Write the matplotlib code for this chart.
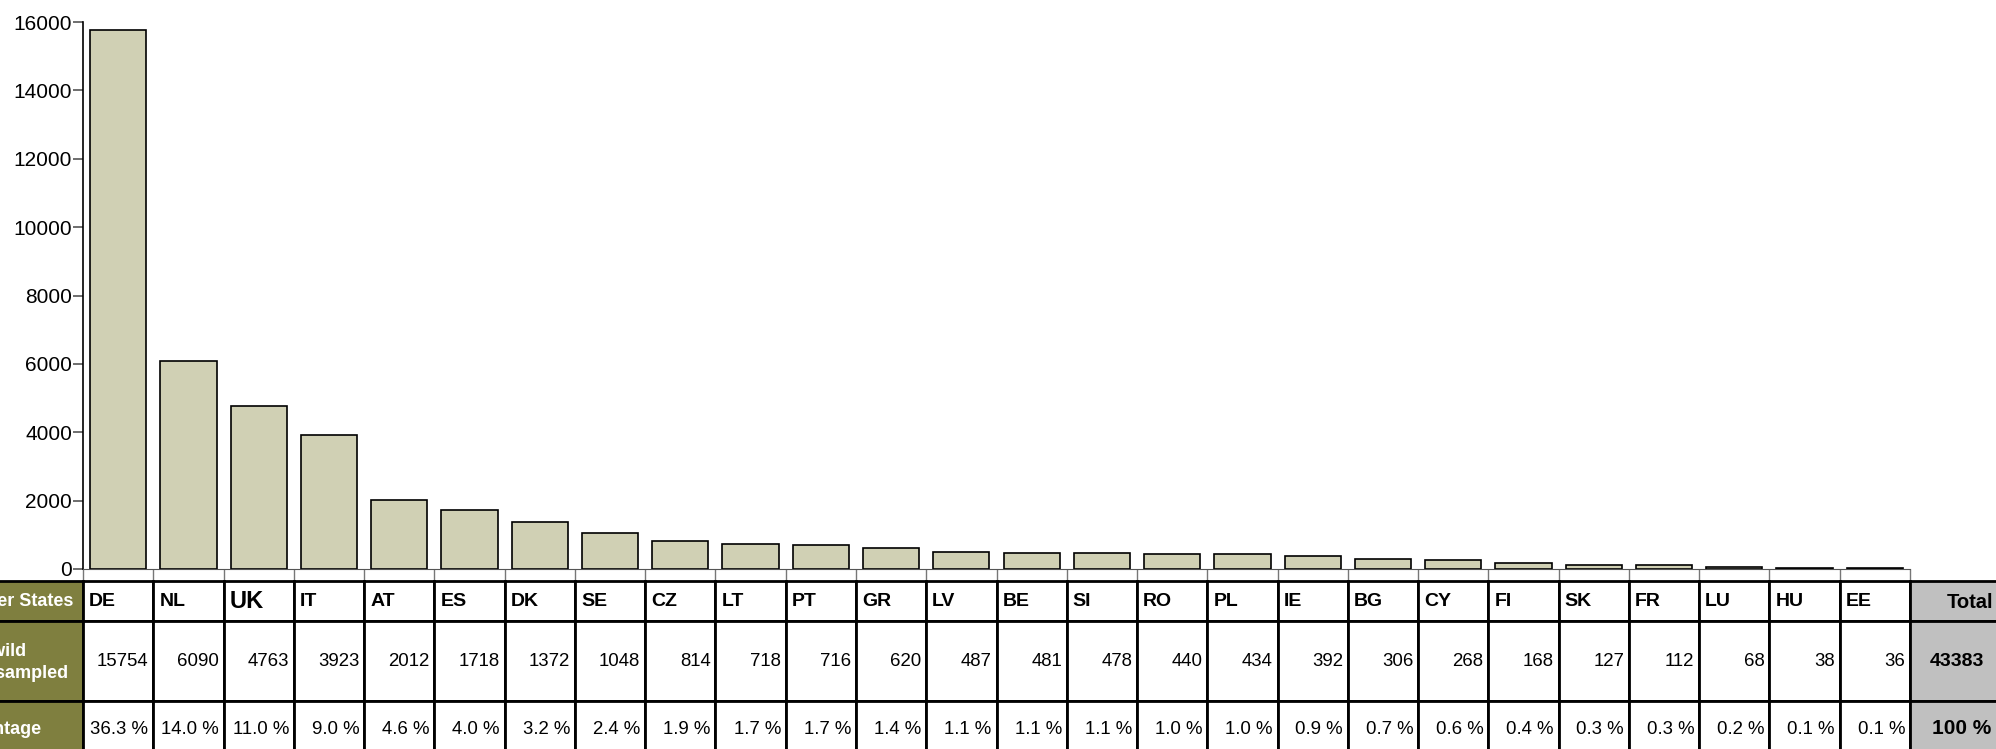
import matplotlib.pyplot as plt
from matplotlib.patches import Rectangle

plt.rcParams['font.family'] = ['Liberation Sans', 'DejaVu Sans']

# data
codes = ['DE', 'NL', 'UK', 'IT', 'AT', 'ES', 'DK', 'SE', 'CZ', 'LT', 'PT', 'GR', 'LV',
         'BE', 'SI', 'RO', 'PL', 'IE', 'BG', 'CY', 'FI', 'SK', 'FR', 'LU', 'HU', 'EE']
counts = [15754, 6090, 4763, 3923, 2012, 1718, 1372, 1048, 814, 718, 716, 620, 487,
          481, 478, 440, 434, 392, 306, 268, 168, 127, 112, 68, 38, 36]
percents = ['36.3 %', '14.0 %', '11.0 %', '9.0 %', '4.6 %', '4.0 %', '3.2 %', '2.4 %',
            '1.9 %', '1.7 %', '1.7 %', '1.4 %', '1.1 %', '1.1 %', '1.1 %', '1.0 %',
            '1.0 %', '0.9 %', '0.7 %', '0.6 %', '0.4 %', '0.3 %', '0.3 %', '0.2 %',
            '0.1 %', '0.1 %']
row_labels = ['Member States', ['Number of wild', 'birds sampled'], 'Percentage']
total_count = '43383'
total_pct = '100 %'

W, H = 1996, 749
fig = plt.figure(figsize=(W / 100, H / 100), dpi=100)

x0, x1 = 83, 1910
n = len(codes)
slot = (x1 - x0) / n

# bar chart
ax = fig.add_axes([x0 / W, (H - 569) / H, (x1 - x0) / W, (569 - 22) / H])
ax.bar(range(n), counts, width=0.8, color='#d0d0b4', edgecolor='black', linewidth=1.2)
ax.set_xlim(-0.5, n - 0.5)
ax.set_ylim(0, 16000)
ax.set_yticks(range(0, 16001, 2000))
ax.tick_params(axis='y', labelsize=15, length=7, width=1.2, color='#555555', pad=1)
ax.set_xticks([i - 0.5 for i in range(n + 1)])
ax.set_xticklabels([])
ax.tick_params(axis='x', length=8, width=1, color='#777777')
for s in ['top', 'right']:
    ax.spines[s].set_visible(False)
ax.spines['left'].set_linewidth(1.2)
ax.spines['bottom'].set_color('#555555')

# table below the bars
tab = fig.add_axes([x0 / W, -7 / H, (x1 - x0) / W, (H - 581 + 7) / H])
tab.set_xlim(-0.5, n - 0.5)
tab.set_ylim(175, 0)
tab.axis('off')

rows = [(0, 40), (40, 120), (120, 175)]
pad = 6 / slot
lw = 2

def cell(xa, xb, r, fc):
    y0, y1 = rows[r]
    tab.add_patch(Rectangle((xa, y0), xb - xa, y1 - y0, facecolor=fc,
                            edgecolor='black', linewidth=lw, clip_on=False))

def px(xpix):
    return (xpix - x0) / slot - 0.5

lab_left = -3.5
tot_right = n + 1.5
for r in range(3):
    cell(lab_left, -0.5, r, '#7f7f3f')
    for i in range(n):
        cell(i - 0.5, i + 0.5, r, 'white')
    cell(n - 0.5, tot_right, r, '#c0c0c0')

for i in range(n):
    tab.text(i - 0.5 + pad, 21, codes[i], ha='left', va='center',
             fontsize=17 if codes[i] == 'UK' else 14, fontweight='bold', clip_on=False)
    tab.text(i + 0.5 - pad * 0.8, 81, str(counts[i]), ha='right', va='center',
             fontsize=13.4, clip_on=False)
    tab.text(i + 0.5 - pad * 0.8, 148, percents[i], ha='right', va='center',
             fontsize=13.4, clip_on=False)

lab_kw = dict(ha='right', va='center', fontsize=13, fontweight='bold', color='white', clip_on=False)
tab.text(px(73), 21, row_labels[0], **lab_kw)
tab.text(px(26), 70, row_labels[1][0], **lab_kw)
tab.text(px(68), 92, row_labels[1][1], **lab_kw)
tab.text(px(42), 148, row_labels[2], **lab_kw)

tab.text(px(1947), 21, 'Total', ha='left', va='center', fontsize=14.5, fontweight='bold', clip_on=False)
tab.text(px(1930), 81, total_count, ha='left', va='center', fontsize=14, fontweight='bold', clip_on=False)
tab.text(px(1932), 148, total_pct, ha='left', va='center', fontsize=15, fontweight='bold', clip_on=False)

fig.savefig('out.png', dpi=100)
